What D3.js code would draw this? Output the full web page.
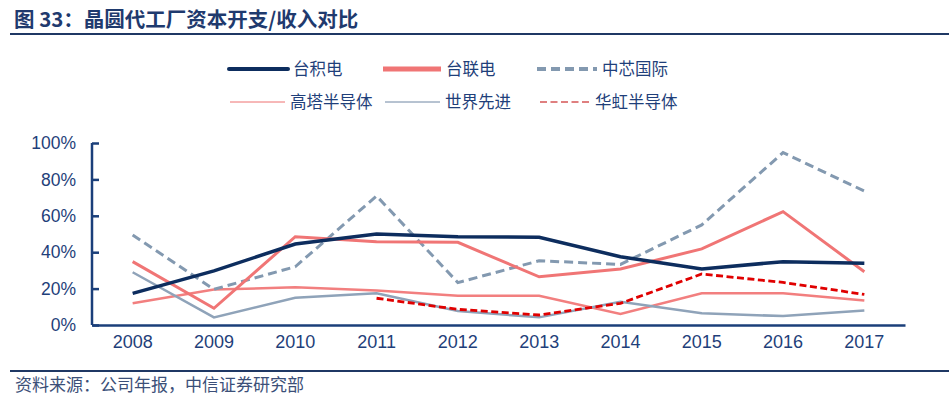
<!DOCTYPE html>
<html><head><meta charset="utf-8">
<script src="https://cdn.jsdelivr.net/npm/d3@7"></script>
<style>body{margin:0;background:#fff;}svg{display:block;}</style>
</head><body>
<div id="chart"></div>
<script>
const years = ["2008","2009","2010","2011","2012","2013","2014","2015","2016","2017"];
const tsmc = [17.4,29.7,44.5,50.0,48.5,48.2,37.5,30.8,34.8,33.9];
const umc = [34.8,9.2,48.5,45.8,45.4,26.5,30.8,41.8,62.3,29.3];
const smic = [49.5,19.6,32.0,70.9,23.3,35.3,33.3,55.0,94.7,73.6];
const tower = [11.9,19.5,20.7,18.9,16.1,16.1,6.0,17.4,17.4,13.4];
const vanguard = [29.0,4.2,15.0,17.4,7.7,4.2,12.8,6.4,4.9,7.9];
const huahong = [null,null,null,14.7,8.6,5.5,11.9,28.0,23.4,16.8];
const yTicks = [0,20,40,60,80,100];
const seriesNames = ["台积电","台联电","中芯国际","高塔半导体","世界先进","华虹半导体"];

const W=949,H=402;
const svg=d3.select("#chart").append("svg").attr("width",W).attr("height",H);
const font="'Liberation Sans', Arial, 'Noto Sans CJK SC', sans-serif";
const cjk="'Noto Sans CJK SC', sans-serif";
const txtColor="#1f3f7a";

// title
svg.append("text").attr("x",14).attr("y",27).text("图 33：晶圆代工厂资本开支/收入对比")
  .attr("font-family",cjk).attr("font-weight","bold").attr("font-size",20.5).attr("fill","#1f3a6e");
svg.append("line").attr("x1",10).attr("x2",949).attr("y1",34).attr("y2",34).attr("stroke","#1f3864").attr("stroke-width",2);
// footer
svg.append("line").attr("x1",10).attr("x2",949).attr("y1",371).attr("y2",371).attr("stroke","#1f3864").attr("stroke-width",2);
svg.append("text").attr("x",15).attr("y",391).text("资料来源：公司年报，中信证券研究部")
  .attr("font-family",cjk).attr("font-size",17).attr("fill","#3b4f78");

const x=d3.scaleBand().domain(years).range([92,905]);
const y=d3.scaleLinear().domain([0,100]).range([325,143]);

const styles=[
  {data:tsmc,color:"#0d2d5e",w:3.5,dash:null,lw:4},
  {data:umc,color:"#f07575",w:3,dash:null,lw:5},
  {data:smic,color:"#8399b0",w:3,dash:"9,5",lw:4},
  {data:tower,color:"#f27f7f",w:2.5,dash:null,lw:1},
  {data:vanguard,color:"#8fa3b9",w:2.5,dash:null,lw:1},
  {data:huahong,color:"#e00000",w:2.8,dash:"7,3.5",lw:1.2}
];
const legColors=["#0d2d5e","#f07575","#8399b0","#ee7070","#6f86a3","#c00000"];
const line=d3.line().defined(d=>d!=null).x((d,i)=>x(years[i])+x.bandwidth()/2).y(d=>y(d));
// draw order: back to front
[3,4,5,2,1,0].forEach(k=>{
  const s=styles[k];
  svg.append("path").attr("d",line(s.data)).attr("fill","none").attr("stroke",s.color)
    .attr("stroke-width",s.w).attr("stroke-dasharray",s.dash).attr("stroke-linejoin","miter");
});

// axes
const yAxis=d3.axisLeft(y).tickValues(yTicks).tickFormat(d=>d+"%").tickSize(-7).tickPadding(16);
const gy=svg.append("g").attr("transform","translate(92,0)").call(yAxis);
gy.select(".domain").attr("stroke","#1b3f7a").attr("stroke-width",2.5).attr("d","M0,325V143");
gy.selectAll(".tick line").attr("stroke","#1b3f7a").attr("stroke-width",2.5);
gy.selectAll(".tick text").attr("font-family",font).attr("font-size",17.5).attr("fill",txtColor);

const xAxis=d3.axisBottom(x).tickSize(0).tickPadding(10);
const gx=svg.append("g").attr("transform","translate(0,325)").call(xAxis);
gx.select(".domain").attr("stroke","#1b3f7a").attr("stroke-width",2.5);
gx.selectAll(".tick text").attr("font-family",font).attr("font-size",18).attr("fill",txtColor);

// legend
const legPos=[[229,69],[383,69],[537,69],[230,102],[385,102],[540,102]];
const legLen=[59,58,60,55,55,50];
styles.forEach((s,i)=>{
  const [lx,ly]=legPos[i];
  svg.append("line").attr("x1",lx).attr("x2",lx+legLen[i]).attr("y1",ly).attr("y2",ly)
    .attr("stroke",legColors[i]).attr("stroke-width",s.lw).attr("stroke-dasharray",s.dash)
    .attr("stroke-linecap",i===0?"round":"butt");
  svg.append("text").attr("x",lx+legLen[i]+5).attr("y",ly+6).text(seriesNames[i])
    .attr("font-family",cjk).attr("font-size",16.5).attr("fill",txtColor);
});
</script>
</body></html>
